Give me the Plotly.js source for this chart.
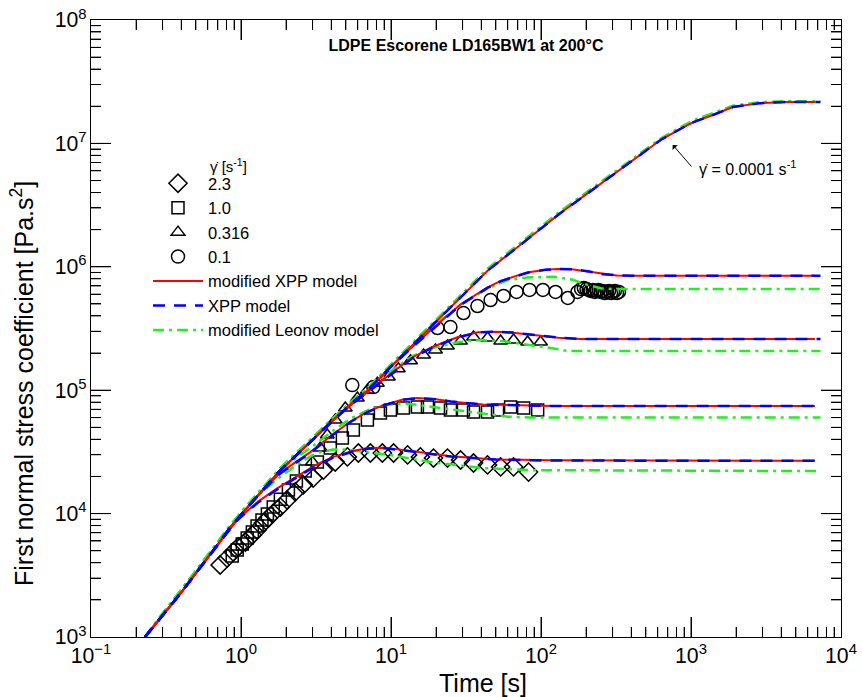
<!DOCTYPE html>
<html><head><meta charset="utf-8">
<script src="https://cdn.plot.ly/plotly-3.0.1.min.js"></script>
<style>html,body{margin:0;padding:0;background:#fff}#chart{width:862px;height:697px}</style>
</head><body><div id="chart"></div>
<script>
// ---------- data ----------
const rateLabels = ['2.3', '1.0', '0.316', '0.1'];

// experimental data
const t_d23 = [0.726,0.809,0.887,0.958,1.07,1.19,1.28,1.41,1.52,1.64,1.83,2.03,2.30,2.60,3.03,3.54,4.25,5.12,6.06,7.29,8.76,10.4,12.9,15.7,19.2,23.8,29.1,35.5,44,53.8,65.6,82.6];
const v_d23 = [3830,4360,4890,5360,5890,6710,7360,8390,9210,10100,11300,12900,15000,17100,19400,22500,26200,28800,31000,31000,31000,31000,29900,28800,28200,28200,27200,25700,24800,23900,23900,21700];
const t_d10 = [0.874,0.943,1.02,1.10,1.19,1.28,1.38,1.50,1.64,1.83,2.07,2.34,2.68,3.23,3.94,4.74,5.61,6.96,8.50,9.91,12.1,15.0,17.5,21.4,24.9,30.4,35.5,44,51.3,62.7,76.6,95];
const v_d10 = [4530,5070,5670,6340,7100,7940,8880,9930,11300,13100,15500,18400,22100,26200,34000,41000,47600,57300,65300,69100,71800,73100,73100,71800,69100,69100,66600,66600,69100,73100,71800,69100];
const t_d0316 = [2.99,3.38,3.76,4.25,4.96,5.97,6.96,8.11,9.61,11.2,13.5,16.5,19.8,23.8,29.1,35.5,44,53.8,65.6,81.4,99.3];
const v_d0316 = [26200,34000,43400,57300,71800,86500,100000,114000,128000,149000,173000,193000,212000,228000,250000,270000,265000,250000,255000,246000,246000];
const t_d01 = [5.52,7.63,20.4,24.9,30.4,37.7,46.1,56.3,68.7,83.9,103,125,151,175,185,193,201,208,214,221,228,235,242,250,258,266,275,284,293,302,311,321,331];
const v_d01 = [110000,106000,319000,325000,422000,481000,538000,580000,625000,649000,649000,625000,559000,625000,660000,673000,660000,649000,637000,649000,625000,637000,649000,625000,637000,613000,625000,637000,613000,625000,637000,613000,625000];

// modified XPP model
const t_mx_00001 = [0.229,0.3,0.4,0.55,0.7,0.85,1.0,1.3,1.8,2.5,3.3,4.1,5.5,7,10,13.5,20,30,44,65,90,135,200,290,430,630,850,1040,1400,1900,2900,4500,6700];
const v_mx_00001 = [1000,1500,2300,3850,5600,7800,9800,14100,22000,32000,44500,57000,79000,100000,156000,224000,361000,590000,930000,1350000,1860000,2730000,3860000,5350000,7600000,10700000,13100000,14900000,17000000,19700000,21200000,21700000,21700000];
const t_mx_01 = [0.229,0.4,0.7,1.0,1.8,2.5,3.3,4.1,5.5,7,10,13.5,18.3,29,44,54,81,107,129,160,200,250,320,400,6700];
const v_mx_01 = [1000,2300,5600,9800,22000,32000,44500,57000,79000,100000,155000,218000,305000,495000,680000,770000,900000,945000,960000,955000,920000,875000,850000,845000,845000];
const t_mx_0316 = [0.229,0.4,0.7,1.0,1.8,2.5,3.3,4.1,5.5,7,10.4,14,19,28,38,50,65,90,130,184,6700];
const v_mx_0316 = [1000,2300,5600,9800,22000,32000,44500,57000,77000,97000,142000,185000,225000,270000,295000,297000,292000,280000,266000,260000,260000];
const t_mx_10 = [0.229,0.4,0.7,1.0,1.3,1.8,2.3,2.9,4,5.4,7,9,12,15,20,25,41,70,120,6700];
const v_mx_10 = [1000,2300,5600,9800,14100,21000,26000,31500,43000,56000,67000,76000,84000,86500,84500,81000,76500,75000,74500,74500];
const t_mx_23 = [0.229,0.4,0.7,0.85,1.0,1.3,1.74,2.48,3.2,4.13,5.5,7,9,11.6,17,25,50,116,6700];
const v_mx_23 = [1000,2300,5600,7800,9500,12500,16000,20600,25000,28800,32000,34000,34200,33000,31000,29200,27500,27000,26800];

// XPP model
const t_x_00001 = [0.229,0.3,0.4,0.55,0.7,0.85,1.0,1.3,1.8,2.5,3.3,4.1,5.5,7,10,13.5,20,30,44,65,90,135,200,290,430,630,850,1040,1400,1900,2900,4500,7300];
const v_x_00001 = [1000,1500,2300,3850,5600,7800,9800,14100,22000,32000,44500,57000,79000,100000,156000,224000,361000,590000,930000,1350000,1860000,2730000,3860000,5350000,7600000,10700000,13100000,14900000,17000000,19700000,21200000,21700000,21700000];
const t_x_01 = [0.229,0.4,0.7,1.0,1.8,2.5,3.3,4.1,5.5,7,10,13.5,18.3,29,44,54,81,107,135,170,210,260,330,420,7300];
const v_x_01 = [1000,2300,5600,9800,22000,32000,44500,57000,79000,100000,155000,216000,300000,490000,675000,765000,895000,945000,960000,955000,915000,870000,850000,845000,845000];
const t_x_0316 = [0.229,0.4,0.7,1.0,1.8,2.5,3.3,4.1,5.5,7,10.4,14,19,28,38,50,65,90,130,184,7300];
const v_x_0316 = [1000,2300,5600,9800,22000,32000,44500,57000,77000,96000,140000,183000,223000,268000,294000,298000,293000,281000,267000,260000,260000];
const t_x_10 = [0.229,0.4,0.7,1.0,1.3,1.8,2.3,2.9,4,5.4,7,9,12,15,20,25,41,70,120,7300];
const v_x_10 = [1000,2300,5600,9800,14100,20800,25700,31000,42500,55500,66500,75500,83500,86000,84500,81000,76500,75000,74500,74500];
const t_x_23 = [0.229,0.4,0.7,0.85,1.0,1.3,1.74,2.48,3.2,4.13,5.5,7,9,11.6,17,25,50,116,7300];
const v_x_23 = [1000,2300,5600,7800,9400,12300,15700,20300,24600,28400,31700,33500,33800,32700,30800,29000,27400,26900,26800];

// modified Leonov model
const t_l_00001 = [0.229,0.3,0.4,0.55,0.7,0.85,1.0,1.3,1.8,2.5,3.3,4.1,5.5,7,10,13.5,20,30,44,65,90,135,200,290,430,630,850,1040,1400,1900,2900,4500,7300];
const v_l_00001 = [1000,1560,2400,4000,5850,8100,10200,14700,22900,33300,46300,59300,82000,104000,162000,233000,375000,613000,967000,1400000,1930000,2830000,4000000,5550000,7850000,11000000,13500000,15400000,17600000,20200000,21600000,22000000,22000000];
const t_l_01 = [0.229,0.4,0.7,1.0,1.8,2.5,3.3,4.1,5.5,7,10,13.5,18.3,29,44,60,81,122,160,200,250,300,7300];
const v_l_01 = [1000,2400,5850,10200,22900,33300,46300,59300,82000,104000,160000,228000,315000,490000,670000,780000,820000,830000,790000,720000,670000,660000,660000];
const t_l_0316 = [0.229,0.4,0.7,1.0,1.8,2.5,3.3,4.1,5.5,7,10.4,14,19,28,38,55,80,116,150,7300];
const v_l_0316 = [1000,2400,5850,10200,22900,33300,46300,59300,79000,100000,148000,190000,220000,245000,255000,250000,235000,220000,208000,208000];
const t_l_10 = [0.229,0.4,0.7,1.0,1.3,1.8,2.3,2.9,4,5.4,7,9,12,15,25,41,60,85,7300];
const v_l_10 = [1000,2400,5850,10200,14700,22000,28000,34000,46000,59000,69000,76000,78000,76000,70000,65000,61000,60000,60000];
const t_l_23 = [0.229,0.4,0.7,0.85,1.0,1.3,1.74,2.48,3.2,4.1,5.1,7,9.9,19,41,89,7300];
const v_l_23 = [1000,2400,5850,8100,10000,14000,19000,26000,31000,33000,33000,31500,29800,26000,23400,22500,22100];

// axis tick definitions
const tickAlias = {'1': '10<sup>0</sup>', '10': '10<sup>1</sup>'};
const xDecades = [0.1, 1, 10, 100, 1000];
const yDecades = [1e3, 1e4, 1e5, 1e6, 1e7];
const minorDigits = [2, 3, 4, 5, 6, 7, 8, 9];

// ---------- styles ----------
const FONT = 'Liberation Sans, Arial, sans-serif';
const RED = '#ff0000', BLUE = '#0000ff', GREEN = '#22ee22';
const mk = (sym, size) => ({symbol: sym, size: size, color: 'black', line: {color: 'black', width: 1.5}});

const traces = [];
traces.push({x: t_d23, y: v_d23, mode: 'markers', name: rateLabels[0], marker: mk('diamond-open', 14), legendrank: 1});
traces.push({x: t_d10, y: v_d10, mode: 'markers', name: rateLabels[1], marker: mk('square-open', 12), legendrank: 2});
traces.push({x: t_d0316, y: v_d0316, mode: 'markers', name: rateLabels[2], marker: mk('triangle-up-open', 12), legendrank: 3});
traces.push({x: t_d01, y: v_d01, mode: 'markers', name: rateLabels[3], marker: mk('circle-open', 13), legendrank: 4});

const leo = [[t_l_00001, v_l_00001], [t_l_01, v_l_01], [t_l_0316, v_l_0316], [t_l_10, v_l_10], [t_l_23, v_l_23]];
leo.forEach((d, i) => traces.push({x: d[0], y: d[1], mode: 'lines', name: 'modified Leonov model',
  line: {color: GREEN, width: 2.5, dash: '11px,5px,3px,5px'}, showlegend: i === 0, legendrank: 7}));
const mx = [[t_mx_00001, v_mx_00001], [t_mx_01, v_mx_01], [t_mx_0316, v_mx_0316], [t_mx_10, v_mx_10], [t_mx_23, v_mx_23]];
mx.forEach((d, i) => traces.push({x: d[0], y: d[1], mode: 'lines', name: 'modified XPP model',
  line: {color: RED, width: 2}, showlegend: i === 0, legendrank: 5}));
const xp = [[t_x_00001, v_x_00001], [t_x_01, v_x_01], [t_x_0316, v_x_0316], [t_x_10, v_x_10], [t_x_23, v_x_23]];
xp.forEach((d, i) => traces.push({x: d[0], y: d[1], mode: 'lines', name: 'XPP model',
  line: {color: BLUE, width: 2.5, dash: '12px,9px'}, showlegend: i === 0, legendrank: 6}));

const W = 862, H = 697, L = 91, R = 21, T = 20, B = 60;
const PW = W - L - R, PH = H - T - B;
const px = x => (x - L) / PW;
const py = y => (H - B - y) / PH;
const X_RANGE = [-1, 4], Y_RANGE = [3, 8];
const xFrac = v => (Math.log10(v) - X_RANGE[0]) / (X_RANGE[1] - X_RANGE[0]);
const yFrac = v => (Math.log10(v) - Y_RANGE[0]) / (Y_RANGE[1] - Y_RANGE[0]);

// inside ticks on all four sides (also drawn as shapes so they sit above everything)
const MAJ = 20, MIN = 10;
const shapes = [];
const tickLine = (x0, x1, y0, y1) => ({type: 'line', xref: 'paper', yref: 'paper', x0: x0, x1: x1, y0: y0, y1: y1,
  line: {color: 'black', width: 1}, layer: 'above'});
xDecades.forEach((dec, k) => {
  if (k > 0) {
    const f = xFrac(dec);
    shapes.push(tickLine(f, f, 0, MAJ / PH), tickLine(f, f, 1, 1 - MAJ / PH));
  }
  minorDigits.forEach(m => {
    const f = xFrac(m * dec);
    shapes.push(tickLine(f, f, 0, MIN / PH), tickLine(f, f, 1, 1 - MIN / PH));
  });
});
yDecades.forEach((dec, k) => {
  if (k > 0) {
    const f = yFrac(dec);
    shapes.push(tickLine(0, MAJ / PW, f, f), tickLine(1, 1 - MAJ / PW, f, f));
  }
  minorDigits.forEach(m => {
    const f = yFrac(m * dec);
    shapes.push(tickLine(0, MIN / PW, f, f), tickLine(1, 1 - MIN / PW, f, f));
  });
});

const axisBase = () => ({type: 'log', showline: true, linecolor: 'black', linewidth: 1, mirror: 'allticks',
  ticks: 'inside', ticklen: MAJ, tickwidth: 1, tickcolor: '#000', showgrid: false, zeroline: false, layer: 'above traces',
  tickmode: 'linear', tick0: 0, dtick: 1, exponentformat: 'power', showexponent: 'all', labelalias: tickAlias,
  tickfont: {family: FONT, size: 17, color: 'black'},
  minor: {ticks: 'inside', ticklen: MIN, tickwidth: 1, tickcolor: '#000', dtick: 'D1'}});

const layout = {
  width: W, height: H, margin: {l: L, r: R, t: T, b: B},
  font: {family: FONT, color: 'black'},
  title: {text: '<b>LDPE Escorene LD165BW1 at 200°C</b>', font: {family: FONT, size: 16, color: 'black'},
          xref: 'paper', x: 0.5, xanchor: 'center', yref: 'container', y: 1 - 45 / H, yanchor: 'middle'},
  xaxis: Object.assign(axisBase(), {range: X_RANGE}),
  yaxis: Object.assign(axisBase(), {range: Y_RANGE}),
  shapes: shapes,
  showlegend: true,
  legend: {x: px(148), xanchor: 'left', y: py(166), yanchor: 'top', bgcolor: 'rgba(0,0,0,0)', borderwidth: 0,
           font: {family: FONT, size: 16.5, color: 'black'}, itemwidth: 50, tracegroupgap: 0, traceorder: 'normal'},
  annotations: [
    {xref: 'paper', yref: 'paper', x: px(22), y: py(384), xanchor: 'center', yanchor: 'middle', showarrow: false,
     textangle: -90, text: 'First normal stress coefficient [Pa.s<sup>2</sup>]', font: {family: FONT, size: 25, color: 'black'}},
    {xref: 'paper', yref: 'paper', x: px(483), y: py(683), xanchor: 'center', yanchor: 'middle', showarrow: false,
     text: 'Time [s]', font: {family: FONT, size: 25, color: 'black'}},
    {xref: 'paper', yref: 'paper', x: px(208), y: py(165), xanchor: 'left', yanchor: 'middle', showarrow: false,
     text: 'γ̇ [s<sup>-1</sup>]', font: {family: FONT, size: 15, color: 'black'}},
    {xref: 'x', yref: 'y', x: 2.8785, y: 6.987, ax: 20, ay: 23, axref: 'pixel', ayref: 'pixel', text: '',
     showarrow: true, arrowhead: 1, arrowsize: 1.2, arrowwidth: 1, arrowcolor: 'black'},
    {xref: 'paper', yref: 'paper', x: px(697), y: py(168), xanchor: 'left', yanchor: 'middle', showarrow: false,
     text: 'γ̇ = 0.0001 s<sup>-1</sup>', font: {family: FONT, size: 16, color: 'black'}}
  ]
};

Plotly.newPlot('chart', traces, layout, {displayModeBar: false, staticPlot: true});
</script></body></html>
